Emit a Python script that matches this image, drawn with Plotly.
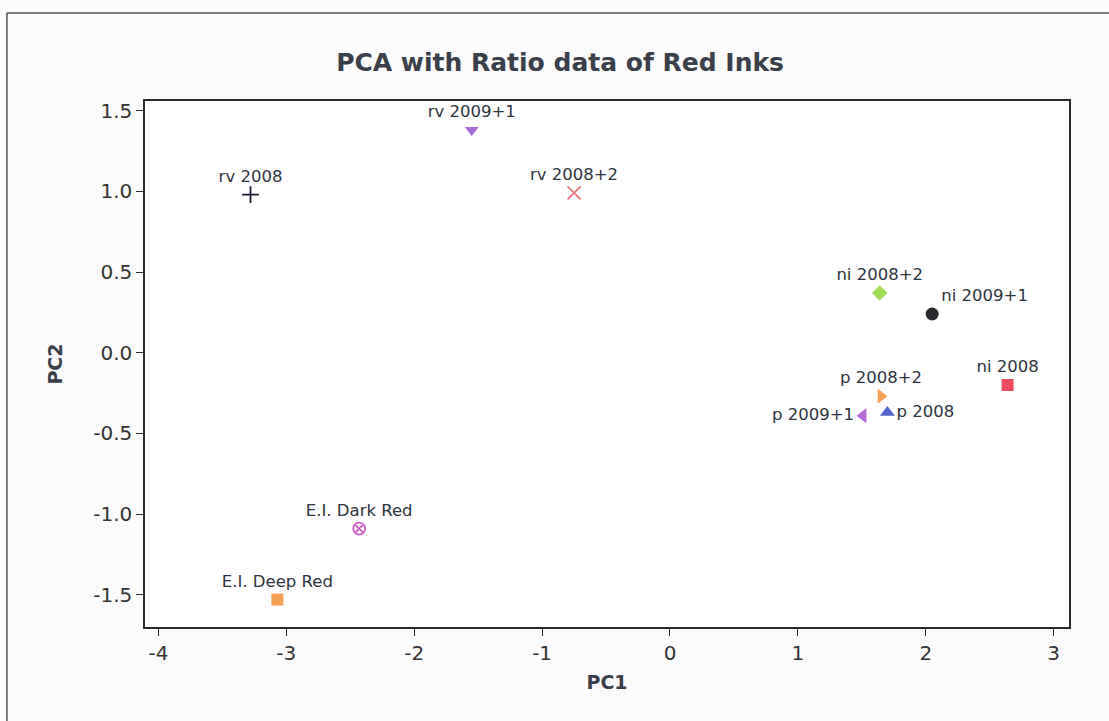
import plotly.graph_objects as go

# PCA scores of the red ink samples
samples = ["rv 2008", "rv 2009+1", "rv 2008+2",
           "ni 2008+2", "ni 2009+1", "ni 2008",
           "p 2008+2", "p 2009+1", "p 2008",
           "E.I. Dark Red", "E.I. Deep Red"]
pc1 = [-3.28, -1.55, -0.75, 1.64, 2.05, 2.64, 1.65, 1.51, 1.70, -2.43, -3.07]
pc2 = [0.98, 1.38, 0.99, 0.37, 0.24, -0.20, -0.27, -0.39, -0.37, -1.09, -1.53]

x_ticks = [-4, -3, -2, -1, 0, 1, 2, 3]
y_ticks = [1.5, 1.0, 0.5, 0.0, -0.5, -1.0, -1.5]

# marker styling per sample
symbols = ["cross-thin", "triangle-down", "x-thin",
           "diamond", "circle", "square",
           "triangle-right", "triangle-left", "triangle-up",
           "circle-x-open", "square"]
colors = ["#1c1c3a", "#a66bd6", "#e9777a",
          "#a3dd55", "#2a2a2e", "#ee4a64",
          "#f5a055", "#b86ad6", "#5563cc",
          "#d35fc4", "#f5a055"]
sizes = [12, 12, 13, 12, 13, 12, 13, 13, 13, 12, 12]
text_pos = ["top center", "top center", "top center",
            "top center", "top right", "top center",
            "top center", "middle left", "middle right",
            "top center", "top center"]

FONT = "DejaVu Sans"
TEXT = "#2e3440"
HEAD = "#3a3f4a"

fig = go.Figure()
for name, x, y, sym, col, sz, tp in zip(samples, pc1, pc2, symbols, colors, sizes, text_pos):
    thin = sym in ("cross-thin", "x-thin", "circle-x-open")
    fig.add_trace(go.Scatter(
        x=[x], y=[y], mode="markers+text", name=name,
        text=[name], textposition=tp,
        textfont=dict(family=FONT, size=16.5, color=TEXT),
        marker=dict(symbol=sym, size=sz, color=col,
                    line=dict(color=col, width=1.8 if thin else 0)),
        showlegend=False, cliponaxis=False,
    ))

axis_common = dict(
    showgrid=False, zeroline=False, showline=True, mirror=True,
    linecolor="#2a2a2a", linewidth=1.5,
    ticks="outside", ticklen=7, tickwidth=1.2, tickcolor="#2a2a2a",
    tickfont=dict(family=FONT, size=20, color="#333333"),
)

fig.update_layout(
    width=1109, height=721,
    margin=dict(l=145, r=40, t=101, b=94),
    paper_bgcolor="#fbfbfb", plot_bgcolor="#ffffff",
    title=dict(text="<b>PCA with Ratio data of Red Inks</b>",
               x=0.505, xref="container", xanchor="center",
               y=1 - 62 / 721, yref="container", yanchor="middle",
               font=dict(family=FONT, size=25, color=HEAD)),
    xaxis=dict(range=[-4.105, 3.12], tickvals=x_ticks,
               ticktext=[str(v) for v in x_ticks],
               title=dict(text="<b>PC1</b>", standoff=12,
                          font=dict(family=FONT, size=19, color=HEAD)),
               **axis_common),
    yaxis=dict(range=[-1.70, 1.56], tickvals=y_ticks,
               ticktext=[f"{v:.1f}" for v in y_ticks],
               title=dict(text="<b>PC2</b>", standoff=26,
                          font=dict(family=FONT, size=19, color=HEAD)),
               **axis_common),
    shapes=[
        # outer frame around the whole chart panel
        dict(type="line", xref="paper", yref="paper",
             x0=-0.1494, x1=1.05, y0=1.1673, y1=1.1673,
             line=dict(color="#555555", width=1.5)),
        dict(type="line", xref="paper", yref="paper",
             x0=-0.1494, x1=-0.1494, y0=1.1673, y1=-0.19,
             line=dict(color="#555555", width=1.5)),
    ],
)

fig.write_html("out.html")
